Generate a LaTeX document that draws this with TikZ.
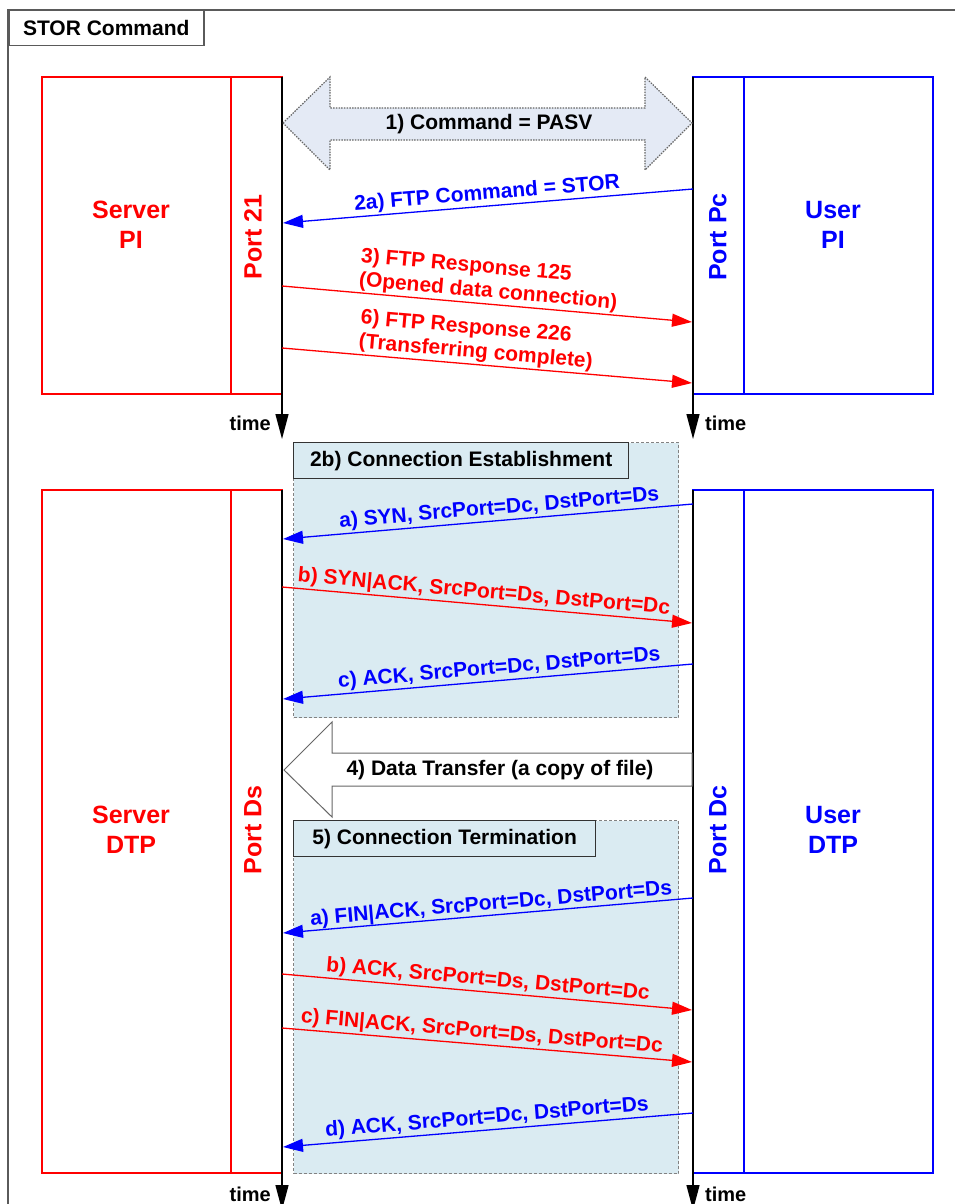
\documentclass[tikz,border=0pt]{standalone}
\usepackage{fontspec}
\setmainfont{Liberation Sans}
\usetikzlibrary{arrows.meta}
\definecolor{frameg}{RGB}{90,90,90}
\definecolor{regfill}{RGB}{218,235,242}
\definecolor{pasvfill}{RGB}{228,234,245}
\definecolor{dashg}{RGB}{130,130,130}
\begin{document}
\begin{tikzpicture}[x=1pt,y=-1pt,
  bigR/.style={text=red, font=\fontsize{25}{30}\selectfont\bfseries, align=center, inner sep=0},
  bigB/.style={text=blue, font=\fontsize{25}{30}\selectfont\bfseries, align=center, inner sep=0},
  rbox/.style={draw=red, line width=1.3pt, inner sep=0, outer sep=0},
  bbox/.style={draw=blue, line width=1.3pt, inner sep=0, outer sep=0},
  life/.style={draw=black, line width=1.3pt, -{Triangle[length=25pt,width=13pt]}},
  msgR/.style={draw=red, line width=1.3pt, -{Triangle[length=20pt,width=13pt]}},
  msgB/.style={draw=blue, line width=1.3pt, -{Triangle[length=20pt,width=13pt]}},
  lbl/.style={font=\fontsize{21}{24}\selectfont\bfseries, sloped, above, inner sep=1.5pt},
  timelbl/.style={font=\fontsize{20}{24}\selectfont\bfseries, inner sep=0},
  hdr/.style={draw=black!80, line width=1.3pt, fill=regfill, font=\fontsize{21}{24}\selectfont\bfseries, inner sep=0, anchor=north west, minimum height=36},
  region/.style={draw=dashg, dash pattern=on 3pt off 2pt, line width=1pt, fill=regfill, inner sep=0, anchor=north west},
  blockarrow/.style={draw=black!60, line width=1pt, fill=white},
  pasvarrow/.style={draw=black!60, dash pattern=on 1.5pt off 1.2pt, line width=1.2pt, fill=pasvfill},
]
\useasboundingbox (0,0) rectangle (955,1204);
\fill[white] (0,0) rectangle (955,1204);

% outer frame and title
\draw[draw=frameg, line width=2pt] (8,1210) -- (8,10) -- (960,10);
\node[draw=frameg, line width=1.5pt, fill=white, minimum width=195, minimum height=35, anchor=north west, font=\fontsize{21}{24}\selectfont\bfseries, inner sep=0] (title) at (8,10) {STOR Command};

% shaded regions
\node[region, minimum width=385, minimum height=275] (reg2b) at (293,442) {};
\node[region, minimum width=385, minimum height=353] (reg5) at (293,820) {};
\node[hdr, minimum width=335] (h2b) at (293,442) {2b) Connection Establishment};
\node[hdr, minimum width=302] (h5) at (293,820) {5) Connection Termination};

% PI boxes
\node[rbox, minimum width=189, minimum height=317] (spi) at (136.5,235.5) {};
\node[rbox, minimum width=51, minimum height=317] (sport) at (256.5,235.5) {};
\node[bbox, minimum width=51, minimum height=317] (uport) at (718.5,235.5) {};
\node[bbox, minimum width=189, minimum height=317] (upi) at (838.5,235.5) {};
% DTP boxes
\node[rbox, minimum width=189, minimum height=683] (sdtp) at (136.5,831.5) {};
\node[rbox, minimum width=51, minimum height=683] (sdport) at (256.5,831.5) {};
\node[bbox, minimum width=51, minimum height=683] (udport) at (718.5,831.5) {};
\node[bbox, minimum width=189, minimum height=683] (udtp) at (838.5,831.5) {};

% box texts
\node[bigR] (spiT) at (131,225) {Server\\PI};
\node[bigR, rotate=90] (p21T) at (253,237) {Port 21};
\node[bigB, rotate=90] (pPcT) at (718,237) {Port Pc};
\node[bigB] (upiT) at (833,225) {User\\PI};
\node[bigR] (sdtpT) at (131,830) {Server\\DTP};
\node[bigR, rotate=90] (pDsT) at (253,830) {Port Ds};
\node[bigB, rotate=90] (pDcT) at (718,830) {Port Dc};
\node[bigB] (udtpT) at (833,830) {User\\DTP};

% lifelines
\coordinate (sl1a) at (282,77);  \coordinate (sl1b) at (282,439);
\coordinate (ul1a) at (693,77);  \coordinate (ul1b) at (693,439);
\coordinate (sl2a) at (282,490); \coordinate (sl2b) at (282,1210);
\coordinate (ul2a) at (693,490); \coordinate (ul2b) at (693,1210);
\draw[life] (sl1a) -- (sl1b);
\draw[life] (ul1a) -- (ul1b);
\draw[life] (sl2a) -- (sl2b);
\draw[life] (ul2a) -- (ul2b);
\node[timelbl, anchor=east] (time1) at (271,423) {time};
\node[timelbl, anchor=west] (time2) at (705,423) {time};
\node[timelbl, anchor=east] (time3) at (271,1194) {time};
\node[timelbl, anchor=west] (time4) at (705,1194) {time};

% PASV double arrow
\draw[pasvarrow] (283,123) -- (330,77) -- (330,108) -- (645,108) -- (645,77) -- (692,123)
  -- (645,170) -- (645,140) -- (330,140) -- (330,170) -- cycle;
\node[font=\fontsize{21}{24}\selectfont\bfseries, inner sep=0] (pasvT) at (489,124) {1) Command = PASV};

% data transfer arrow
\draw[blockarrow] (284,770) -- (332,722) -- (332,753) -- (692,753) -- (692,786) -- (332,786) -- (332,817) -- cycle;
\node[font=\fontsize{21}{24}\selectfont\bfseries, inner sep=0] (dtT) at (500,770) {4) Data Transfer (a copy of file)};

% PI messages
\coordinate (m2aS) at (693,189);  \coordinate (m2aE) at (283,223);
\coordinate (m3S) at (282,286);   \coordinate (m3E) at (692,322);
\coordinate (m6S) at (282,348);   \coordinate (m6E) at (692,383);
\draw[msgB] (m2aS) -- node[lbl, text=blue] (t2a) {2a) FTP Command = STOR} (m2aE);
\draw[msgR] (m3S) -- node[lbl, text=red, align=left] (t3) {3) FTP Response 125\\(Opened data connection)} (m3E);
\draw[msgR] (m6S) -- node[lbl, text=red, align=left, pos=0.47] (t6) {6) FTP Response 226\\(Transferring complete)} (m6E);

% connection establishment
\coordinate (eaS) at (693,504);  \coordinate (eaE) at (283,539);
\coordinate (ebS) at (282,587);  \coordinate (ebE) at (692,623);
\coordinate (ecS) at (693,664);  \coordinate (ecE) at (283,699);
\draw[msgB] (eaS) -- node[lbl, text=blue, pos=0.47] (tea) {a) SYN, SrcPort=Dc, DstPort=Ds} (eaE);
\draw[msgR] (ebS) -- node[lbl, text=red, pos=0.49] (teb) {b) SYN|ACK, SrcPort=Ds, DstPort=Dc} (ebE);
\draw[msgB] (ecS) -- node[lbl, text=blue, pos=0.47] (tec) {c) ACK, SrcPort=Dc, DstPort=Ds} (ecE);

% connection termination
\coordinate (taS) at (693,898);   \coordinate (taE) at (283,933);
\coordinate (tbS) at (282,974);   \coordinate (tbE) at (692,1010);
\coordinate (tcS) at (282,1028);  \coordinate (tcE) at (692,1062);
\coordinate (tdS) at (693,1113);  \coordinate (tdE) at (283,1147);
\draw[msgB] (taS) -- node[lbl, text=blue, pos=0.49, inner sep=0pt] (tta) {a) FIN|ACK, SrcPort=Dc, DstPort=Ds} (taE);
\draw[msgR] (tbS) -- node[lbl, text=red, pos=0.50] (ttb) {b) ACK, SrcPort=Ds, DstPort=Dc} (tbE);
\draw[msgR] (tcS) -- node[lbl, text=red, pos=0.485] (ttc) {c) FIN|ACK, SrcPort=Ds, DstPort=Dc} (tcE);
\draw[msgB] (tdS) -- node[lbl, text=blue, pos=0.50] (ttd) {d) ACK, SrcPort=Dc, DstPort=Ds} (tdE);
\end{tikzpicture}
\end{document}
